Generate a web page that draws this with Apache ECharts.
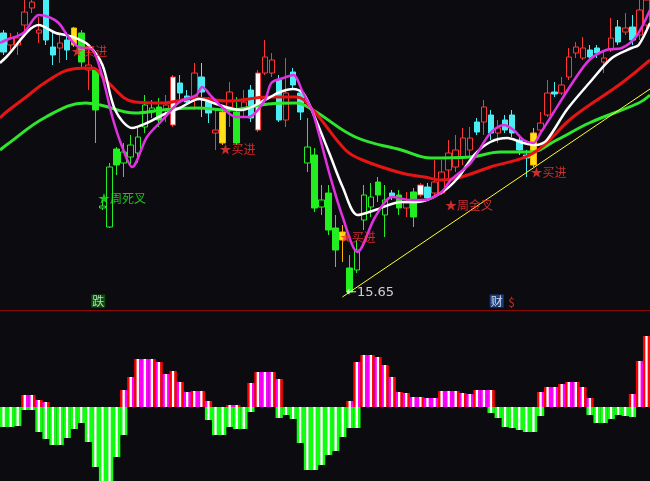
<!DOCTYPE html>
<html><head><meta charset="utf-8">
<script src="https://cdn.jsdelivr.net/npm/echarts@6/dist/echarts.min.js"></script>
<style>html,body{margin:0;padding:0;background:#0c0c10}#c{width:650px;height:481px}</style>
</head><body><div id="c"></div>
<script>
// ---- data (prices) ----
const days = Array.from({length: 92}, (_, i) => 'D' + (i + 1));
const opens = [20.84,20.6,20.6,21.0,21.34,20.84,21.5,20.56,20.54,20.7,
 20.6,20.84,20.1,20.1,17.34,16.96,18.52,18.24,18.36,18.44,
 18.96,19.26,19.36,19.3,19.0,19.84,19.58,19.56,19.96,19.46,
 18.84,18.64,19.36,19.26,19.34,19.7,18.9,20.04,20.04,19.9,
 19.1,20.06,19.64,18.24,18.4,17.36,17.64,16.94,16.7,16.14,
 16.1,17.1,17.36,17.86,17.2,17.64,17.6,17.34,17.66,17.6,
 17.76,17.64,17.64,18.1,18.16,18.36,18.5,19.06,19.06,19.2,
 18.84,19.1,19.2,18.7,18.4,18.2,18.9,19.2,19.66,19.64,
 19.96,20.44,20.34,20.5,20.54,20.26,20.5,20.96,20.86,20.96,
 20.8,21.0];
const closes = [20.46,20.74,20.74,21.26,21.46,20.9,20.7,20.4,20.64,20.5,
 20.94,20.26,20.2,19.3,17.38,18.16,18.2,18.46,18.6,18.76,
 19.4,19.34,19.1,19.4,19.96,19.64,19.46,20.04,19.66,19.24,
 18.9,19.26,19.66,18.64,19.46,19.14,20.04,20.36,20.3,19.1,
 19.64,19.8,19.26,18.56,17.34,17.5,16.9,16.5,16.86,15.66,
 16.5,17.6,17.56,17.6,17.5,17.56,17.34,17.44,17.16,17.8,
 17.54,17.86,18.06,18.44,18.5,18.74,18.74,18.86,19.36,18.84,
 18.94,18.9,18.84,18.5,18.34,18.84,19.04,19.64,19.62,19.8,
 20.36,20.56,20.54,20.36,20.44,20.34,20.74,20.66,20.94,20.7,
 21.3,21.5];
const highs = [20.9,20.84,20.86,21.5,21.6,21.16,21.56,20.84,20.8,20.86,
 20.96,20.9,20.5,20.14,17.5,18.24,18.56,18.64,18.8,18.96,
 19.6,19.5,19.54,19.6,20.0,20.0,19.7,20.24,20.24,19.56,
 19.3,19.3,19.86,19.56,19.7,19.8,20.1,20.7,20.44,20.0,
 20.34,20.14,19.74,19.14,18.54,17.8,17.8,17.2,17.0,16.4,
 16.7,17.8,17.84,17.96,17.8,17.7,17.7,17.66,17.74,17.84,
 17.84,18.3,18.3,18.7,18.8,18.94,18.96,19.14,19.5,19.3,
 19.1,19.2,19.3,18.8,18.5,18.94,19.26,19.9,19.86,19.96,
 20.54,20.66,20.76,20.6,20.6,20.46,21.14,21.1,21.24,21.2,
 21.5,21.6];
const lows = [20.4,20.5,20.4,20.76,21.24,20.64,20.6,20.2,20.24,20.3,
 20.56,20.16,19.7,18.64,17.3,16.94,18.0,17.96,18.2,18.24,
 18.84,19.14,18.96,19.06,18.96,19.5,19.4,19.3,19.16,19.04,
 18.5,18.6,18.96,18.6,19.16,19.06,18.86,20.0,19.96,19.06,
 18.96,19.7,19.1,18.06,17.26,17.2,16.8,16.16,16.26,15.65,
 16.04,16.9,17.16,17.46,16.76,17.5,17.2,17.16,16.96,17.56,
 17.5,17.58,17.6,17.84,18.06,18.2,18.36,18.8,18.8,18.7,
 18.64,18.84,18.76,18.4,17.96,18.16,18.84,19.16,19.56,19.6,
 19.9,20.34,20.3,20.3,20.34,20.04,20.46,20.6,20.8,20.6,
 20.7,20.9];
// candle class: n = normal, g = weak phase, y = yellow signal bar, w = white signal bar
const tones = ('nnnnnnnnnn' + 'ygnggggggg' + 'gggnwnnnnn' + 'nyngnnwnnn' + 'nnngggggyg' +
  'gggggngngw' + 'nnnnnnnnnn' + 'nnnnnynnnn' + 'nnnnnnnnnn' + 'nn').split('');

// moving-average lines read as [day index, price]
const whiteLine = [[-0.5,20.24],[0.4,20.36],[5.0,21.0],[7.4,20.84],[8.8,20.8],[10.2,20.74],[12.0,20.6],[14.0,20.2],[15.8,19.3],[18.2,18.94],[20.3,19.04],[22.5,19.2],[24.9,19.34],[27.7,19.52],[30.1,19.42],[31.9,19.34],[33.7,19.3],[37.5,19.54],[39.1,19.66],[41.0,19.72],[42.4,19.64],[43.8,19.24],[46.1,18.44],[48.0,17.76],[50.1,17.2],[52.6,17.3],[56.3,17.46],[58.7,17.46],[61.9,17.64],[64.3,17.94],[66.6,18.4],[68.9,18.66],[71.3,18.74],[73.6,18.64],[75.5,18.6],[76.9,18.7],[79.7,19.3],[82.9,19.84],[86.1,20.34],[88.9,20.54],[89.9,20.6],[91.5,21.04]];
const magentaLine = [[-0.5,20.64],[0.4,20.7],[2.8,20.84],[5.0,21.2],[6.4,21.16],[7.8,21.04],[9.2,20.76],[10.6,20.56],[12.6,20.5],[14.0,19.96],[15.4,19.16],[16.8,18.56],[18.2,18.16],[20.3,18.76],[22.5,19.1],[24.9,19.46],[27.3,19.6],[28.1,19.76],[29.5,19.56],[30.9,19.36],[32.9,19.16],[34.7,19.16],[37.0,19.5],[37.9,19.84],[39.6,19.94],[41.0,20.0],[42.4,19.64],[43.8,19.24],[46.1,18.04],[48.0,17.16],[50.1,16.46],[52.6,17.16],[55.0,17.56],[57.7,17.5],[59.6,17.5],[62.0,17.66],[63.3,17.9],[66.1,18.24],[68.9,18.84],[70.8,19.0],[72.2,18.9],[73.6,18.7],[75.0,18.64],[76.0,18.84],[77.8,19.24],[80.5,19.84],[82.9,20.3],[85.3,20.5],[87.5,20.54],[89.5,20.76],[91.5,21.3]];
const redLine = [[-0.5,19.14],[0.4,19.26],[3.2,19.56],[6.0,19.86],[9.8,20.12],[12.6,20.14],[14.4,19.9],[18.6,19.46],[22.5,19.44],[27.3,19.54],[31.9,19.48],[37.5,19.56],[41.4,19.56],[43.8,19.3],[48.4,18.5],[50.8,18.3],[56.3,18.04],[59.6,17.96],[61.9,17.9],[64.3,17.94],[68.9,18.16],[75.0,18.44],[80.6,19.16],[87.5,19.84],[91.5,20.3]];
const greenLine = [[-0.5,18.5],[0.4,18.6],[6.0,19.16],[11.6,19.44],[13.7,19.4],[18.6,19.24],[22.5,19.3],[27.3,19.34],[31.9,19.3],[37.5,19.42],[41.4,19.44],[43.8,19.3],[49.8,18.76],[56.3,18.5],[60.5,18.34],[66.1,18.36],[70.3,18.46],[74.5,18.46],[78.3,18.7],[82.9,19.04],[89.9,19.44],[91.5,19.6]];
const trendLine = [[47.96,15.56],[91.5,19.72]];

// signal texts [day index, price]
const markK = [9.5, 30.5, 13.3, 47.5, 62.4, 74.5];
const markP = [20.48, 18.52, 17.54, 16.76, 17.40, 18.06];
const markText = ['★买进', '★买进', '★周死叉', '★买进', '★周金叉', '★买进'];
const lowK = 48.4, lowP = 15.64, lowText = '←15.65';
const tagK = [13.4, 69.8, 71.9];
const tagP = [15.48, 15.48, 15.46];
const tagText = ['跌', '财', '$'];

// lower histogram
const posVals = [0,0,0,0.12,0.12,0.07,0.05,0,0,0,
 0,0,0,0,0,0,0,0.17,0.30,0.48,
 0.48,0.48,0.45,0.33,0.36,0.25,0.15,0.16,0.16,0.06,
 0,0,0.02,0.02,0,0.24,0.35,0.35,0.35,0.28,
 0,0,0,0,0,0,0,0,0,0.06,
 0.45,0.52,0.52,0.50,0.42,0.30,0.15,0.14,0.10,0.10,
 0.09,0.09,0.16,0.16,0.16,0.14,0.13,0.17,0.17,0.17,
 0,0,0,0,0,0,0.15,0.20,0.20,0.23,
 0.25,0.25,0.20,0.09,0,0,0,0,0,0.13,
 0.46,0.71];
const negVals = [-0.20,-0.20,-0.19,-0.03,-0.03,-0.25,-0.32,-0.38,-0.38,-0.31,
 -0.22,-0.16,-0.35,-0.60,-0.80,-0.80,-0.50,-0.28,0,0,
 0,0,0,0,0,0,0,0,0,-0.13,
 -0.28,-0.28,-0.20,-0.22,-0.22,-0.05,0,0,0,-0.11,
 -0.08,-0.12,-0.36,-0.63,-0.63,-0.58,-0.48,-0.44,-0.30,-0.21,
 -0.21,0,0,0,0,0,0,0,0,0,
 0,0,0,0,0,0,0,0,0,-0.06,
 -0.11,-0.20,-0.21,-0.23,-0.25,-0.25,-0.09,0,0,0,
 0,0,0,-0.08,-0.16,-0.16,-0.12,-0.08,-0.09,-0.10,
 0,0];

// ---- styles ----
const BG = '#0c0c10', RED = '#ff3434', CYAN = '#48eef4', GRN = '#22ee22', YEL = '#ffe11a';
const FONT = "'Noto Sans CJK SC', 'DejaVu Sans', sans-serif";
function candleStyle(tone, up) {
  if (tone === 'y') return {fill: YEL, border: '#ffb000'};
  if (tone === 'w') return {fill: '#ffffff', border: RED};
  if (tone === 'g') return up ? {fill: BG, border: GRN} : {fill: GRN, border: GRN};
  return up ? {fill: BG, border: RED} : {fill: CYAN, border: CYAN};
}
const candleData = days.map((d, i) => {
  const s = candleStyle(tones[i], closes[i] >= opens[i]);
  return {
    value: [opens[i], closes[i], lows[i], highs[i]],
    itemStyle: {color: s.fill, color0: s.fill, borderColor: s.border, borderColor0: s.border, borderWidth: 1}
  };
});

const markData = markK.map((k, i) => ({
  value: [k, markP[i]],
  label: {color: markText[i].indexOf('死') >= 0 ? GRN : RED}
}));
const tagStyles = [
  {color: '#d8ffd8', backgroundColor: '#0f5e12', padding: [1, 1, 0, 1]},
  {color: '#ffffff', backgroundColor: '#1d4a9c', padding: [1, 1, 0, 1]},
  {color: '#ff3030', backgroundColor: 'transparent', padding: 0}
];
const tagData = tagK.map((k, i) => ({value: [k, tagP[i]], label: tagStyles[i]}));

// striped histogram sticks: [side | white | side], red side where the neighbour is lower
function histRenderer(vals, isPos) {
  return function (params, api) {
    const i = params.dataIndex;
    const v = vals[i];
    if (!v) return null;
    const base = api.coord([i, 0]);
    const tip = api.coord([i, v]);
    const bw = api.size([1, 0])[0];
    const t = bw / 3;
    const x0 = base[0] - bw / 2;
    const y = Math.min(base[1], tip[1]);
    const h = Math.abs(base[1] - tip[1]);
    const side = isPos ? '#ff00ff' : '#10ff10';
    const prev = i > 0 ? vals[i - 1] : 0;
    const next = i < vals.length - 1 ? vals[i + 1] : 0;
    const lc = isPos && prev < v ? '#ff0000' : side;
    const rc = isPos && next < v ? '#ff0000' : side;
    return {type: 'group', children: [
      {type: 'rect', shape: {x: x0, y, width: t + 0.4, height: h}, style: {fill: lc}},
      {type: 'rect', shape: {x: x0 + t, y, width: t + 0.4, height: h}, style: {fill: '#ffffff'}},
      {type: 'rect', shape: {x: x0 + 2 * t, y, width: t + 0.2, height: h}, style: {fill: rc}}
    ]};
  };
}

const LEFT = -6.5, WIDTH = 657.8;
const hidden = {show: false};
const chart = echarts.init(document.getElementById('c'), null, {renderer: 'canvas'});
const lineS = (data, color, w, smooth) => ({
  type: 'line', xAxisIndex: 1, yAxisIndex: 0, data, symbol: 'none', smooth,
  lineStyle: {color, width: w}, z: 3, silent: true
});
chart.setOption({
  animation: false,
  backgroundColor: BG,
  grid: [
    {left: LEFT, width: WIDTH, top: 0, height: 310},
    {left: LEFT, width: WIDTH, top: 312, height: 169}
  ],
  xAxis: [
    {type: 'category', gridIndex: 0, data: days, boundaryGap: true,
     axisLine: {show: true, lineStyle: {color: '#8a0a0a', width: 1}},
     axisTick: hidden, axisLabel: hidden, splitLine: hidden},
    {type: 'value', gridIndex: 0, min: -0.5, max: 91.5, show: false},
    {type: 'category', gridIndex: 1, data: days, show: false}
  ],
  yAxis: [
    {type: 'value', gridIndex: 0, min: 15.3, max: 21.5, show: false, splitLine: hidden},
    {type: 'value', gridIndex: 1, min: -0.74, max: 0.95, show: false, splitLine: hidden}
  ],
  series: [
    {type: 'candlestick', xAxisIndex: 0, yAxisIndex: 0, data: candleData,
     barWidth: 6, z: 2, clip: true},
    lineS(greenLine, '#2fe62f', 3, 0.4),
    lineS(redLine, '#e61414', 3, 0.4),
    lineS(whiteLine, '#ffffff', 2.5, 0.3),
    lineS(magentaLine, '#e032e0', 2.5, 0.3),
    {type: 'line', xAxisIndex: 1, yAxisIndex: 0, data: trendLine, symbol: 'none',
     lineStyle: {color: '#ffff30', width: 1}, z: 4},
    {type: 'scatter', xAxisIndex: 1, yAxisIndex: 0, data: markData, symbolSize: 1,
     itemStyle: {color: 'rgba(0,0,0,0)'}, z: 6,
     label: {show: true, position: 'right', distance: 0, fontSize: 12, fontFamily: FONT,
       formatter: p => markText[p.dataIndex]}},
    {type: 'scatter', xAxisIndex: 1, yAxisIndex: 0, data: [[lowK, lowP]], symbolSize: 1,
     itemStyle: {color: 'rgba(0,0,0,0)'}, z: 6,
     label: {show: true, position: 'right', distance: 0, fontSize: 13, color: '#ffffff',
       fontFamily: "'DejaVu Sans', sans-serif", formatter: lowText}},
    {type: 'scatter', xAxisIndex: 1, yAxisIndex: 0, data: tagData, symbolSize: 1,
     itemStyle: {color: 'rgba(0,0,0,0)'}, z: 6,
     label: {show: true, position: 'inside', fontSize: 12, fontFamily: FONT,
       formatter: p => tagText[p.dataIndex]}},
    {type: 'custom', xAxisIndex: 2, yAxisIndex: 1, data: posVals.map((v, i) => [i, v]),
     encode: {x: 0, y: 1}, renderItem: histRenderer(posVals, true), z: 2},
    {type: 'custom', xAxisIndex: 2, yAxisIndex: 1, data: negVals.map((v, i) => [i, v]),
     encode: {x: 0, y: 1}, renderItem: histRenderer(negVals, false), z: 2}
  ]
});
</script></body></html>
